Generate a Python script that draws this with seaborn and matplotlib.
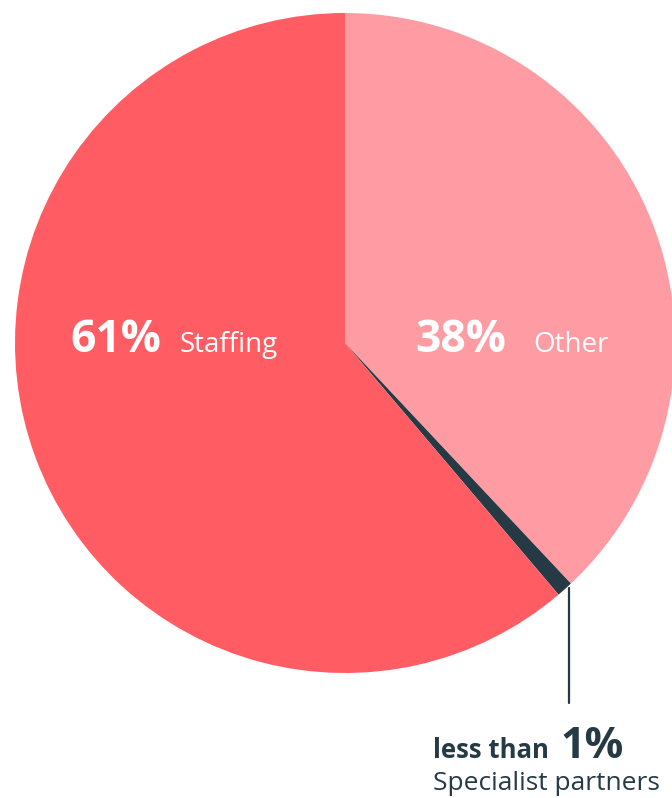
import matplotlib
matplotlib.use("Agg")
import matplotlib.pyplot as plt
import seaborn as sns

categories = ["Other", "Specialist partners", "Staffing"]
shares = [38.0, 0.8, 61.2]
colors = ["#FF9CA3", "#263A45", "#FF5C63"]

sns.set_theme(style="white")
plt.rcParams["font.family"] = ["Open Sans", "DejaVu Sans"]

W, H = 672, 798
fig = plt.figure(figsize=(W / 100, H / 100), dpi=100)
ax = fig.add_axes([0, 0, 1, 1])

cx, cy, r = 345, H - 343, 330
ax.pie(shares, colors=colors, startangle=90, counterclock=False,
       center=(cx, cy), radius=r, frame=True,
       wedgeprops=dict(linewidth=0))
ax.set_xlim(0, W)
ax.set_ylim(0, H)
ax.set_aspect("equal")
ax.axis("off")

# leader line
ax.plot([569, 569], [H - 588, H - 703], color="#263A45", lw=1.6)

white = "white"
dark = "#263A45"
ax.text(70, H - 352, "61%", color=white, fontsize=32, fontweight="bold", va="baseline", ha="left")
ax.text(180, H - 352, "Staffing", color=white, fontsize=20, va="baseline", ha="left")
ax.text(415, H - 352, "38%", color=white, fontsize=32, fontweight="bold", va="baseline", ha="left")
ax.text(533, H - 352, "Other", color=white, fontsize=20, va="baseline", ha="left")

ax.text(433, H - 758, "less than", color=dark, fontsize=18.5, fontweight="bold", va="baseline", ha="left")
ax.text(560, H - 758, "1%", color=dark, fontsize=31, fontweight="bold", va="baseline", ha="left")
ax.text(433, H - 790, "Specialist partners", color=dark, fontsize=19, va="baseline", ha="left")

fig.savefig("out.png", dpi=100)
